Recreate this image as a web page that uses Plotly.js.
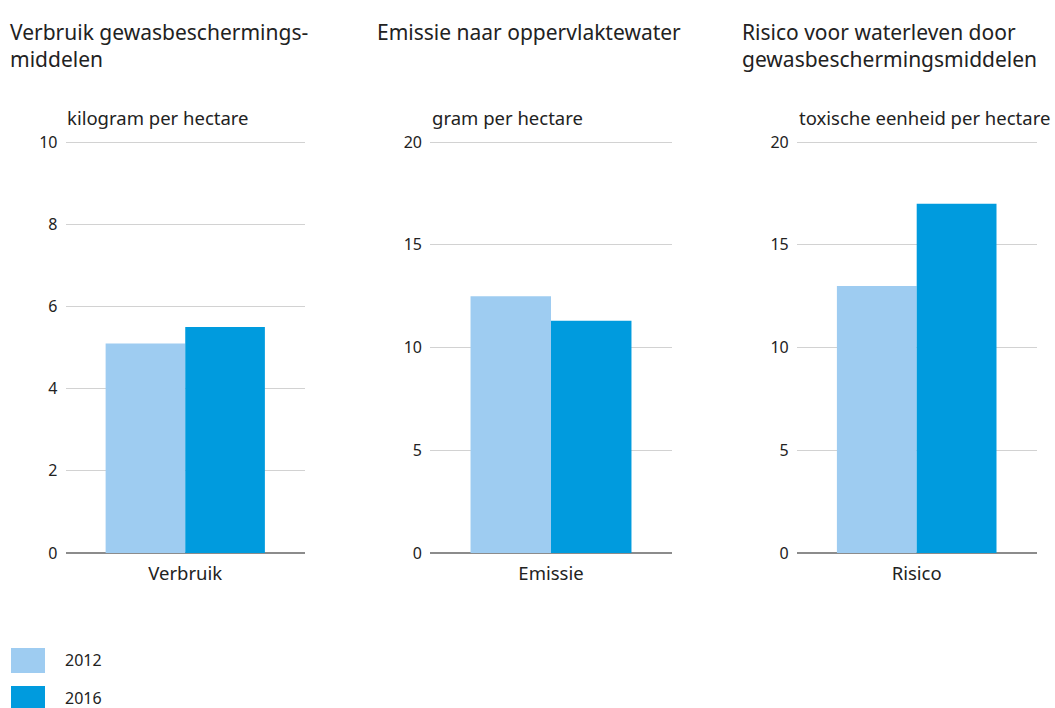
<!DOCTYPE html>
<html>
<head>
<meta charset="utf-8">
<script src="https://cdn.plot.ly/plotly-3.0.1.min.js"></script>
<style>html,body{margin:0;padding:0;background:#fff;}#chart{width:1055px;height:708px;}</style>
</head>
<body>
<div id="chart"></div>
<script>
// ---- data ----
var categories = ['Verbruik', 'Emissie', 'Risico'];
var years = ['2012', '2016'];
var values2012 = [5.1, 12.5, 13.0];
var values2016 = [5.5, 11.3, 17.0];
var panelTitles = ['Verbruik gewasbeschermings-<br>middelen', 'Emissie naar oppervlaktewater', 'Risico voor waterleven door<br>gewasbeschermingsmiddelen'];
var unitLabels = ['kilogram per hectare', 'gram per hectare', 'toxische eenheid per hectare'];
var yMax = [10, 20, 20];
var yStep = [2, 5, 5];

// ---- styling ----
var colors = ['#9ECCF1', '#009BDE'];
var font = 'Noto Sans, Open Sans, sans-serif';
var textColor = '#222222';
var W = 1055, H = 708;
var xDomains = [[65.5 / W, 305 / W], [430 / W, 672 / W], [796.7 / W, 1036.7 / W]];
var yDomain = [1 - 553 / H, 1 - 140 / H];
var rangePad = 1.005;
var titleX = [8, 375, 740];
var unitX = [65, 430, 797];

var series = [values2012, values2016];
var traces = [];
var layout = {
  width: W, height: H,
  margin: {l: 0, r: 0, t: 0, b: 0},
  paper_bgcolor: '#ffffff',
  plot_bgcolor: '#ffffff',
  barmode: 'group',
  bargap: 0.335,
  bargroupgap: 0,
  showlegend: false,
  font: {family: font, color: textColor},
  annotations: [],
  shapes: []
};

for (var p = 0; p < categories.length; p++) {
  var sfx = p === 0 ? '' : String(p + 1);
  for (var s = 0; s < years.length; s++) {
    traces.push({
      type: 'bar',
      name: years[s],
      x: [categories[p]],
      y: [series[s][p]],
      xaxis: 'x' + sfx,
      yaxis: 'y' + sfx,
      marker: {color: colors[s], line: {width: 0}},
      showlegend: false,
      hovertemplate: years[s] + ': %{y}<extra>' + categories[p] + '</extra>'
    });
  }
  layout['xaxis' + sfx] = {
    domain: xDomains[p],
    anchor: 'y' + sfx,
    showgrid: false,
    zeroline: false,
    showline: false,
    ticks: '',
    ticklabelstandoff: 7,
    tickfont: {family: font, size: 18.5, color: textColor},
    fixedrange: true
  };
  layout['yaxis' + sfx] = {
    domain: yDomain,
    anchor: 'x' + sfx,
    range: [0, yMax[p] * rangePad],
    dtick: yStep[p],
    tick0: 0,
    showgrid: true,
    gridcolor: '#D2D2D2',
    gridwidth: 1,
    zeroline: true,
    zerolinecolor: '#8C8C8C',
    zerolinewidth: 1.5,
    showline: false,
    ticks: '',
    ticklabelstandoff: 7,
    tickfont: {family: font, size: 16, color: textColor},
    fixedrange: true
  };
  layout.annotations.push({
    xref: 'paper', yref: 'paper',
    x: titleX[p] / W, y: 1 - 16 / H,
    xanchor: 'left', yanchor: 'top', align: 'left',
    showarrow: false,
    text: panelTitles[p],
    font: {family: font, size: 21, color: textColor}
  });
  layout.annotations.push({
    xref: 'paper', yref: 'paper',
    x: unitX[p] / W, y: 1 - 117 / H,
    xanchor: 'left', yanchor: 'middle', align: 'left',
    showarrow: false,
    text: unitLabels[p],
    font: {family: font, size: 18.5, color: textColor}
  });
}

// custom legend (swatches + labels)
for (var s = 0; s < years.length; s++) {
  var swTop = 648 + s * 38;
  layout.shapes.push({
    type: 'rect', xref: 'paper', yref: 'paper',
    x0: 11 / W, x1: 45 / W, y0: 1 - (swTop + 25) / H, y1: 1 - swTop / H,
    fillcolor: colors[s], line: {width: 0}
  });
  layout.annotations.push({
    xref: 'paper', yref: 'paper',
    x: 63 / W, y: 1 - (swTop + 12) / H,
    xanchor: 'left', yanchor: 'middle',
    showarrow: false,
    text: years[s],
    font: {family: font, size: 16, color: textColor}
  });
}

Plotly.newPlot('chart', traces, layout, {displayModeBar: false, responsive: false});
</script>
</body>
</html>
